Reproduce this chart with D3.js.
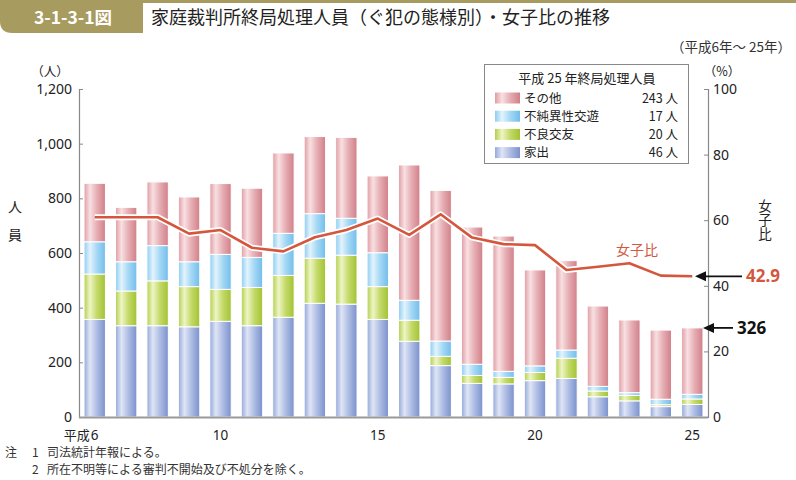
<!DOCTYPE html>
<html><head><meta charset="utf-8">
<script src="https://cdn.jsdelivr.net/npm/d3@7"></script>
<style>
body{margin:0;background:#fff;}
svg{display:block;font-family:"Noto Sans CJK JP","Noto Sans",sans-serif;}
</style></head>
<body><svg id="c" width="796" height="480"></svg>
<script>
const years = ["6","7","8","9","10","11","12","13","14","15","16","17","18","19","20","21","22","23","24","25"];
const iede     = [357,334,334,330,350,334,365,416,413,357,277,188,123,121,133,141,74,59,38,46];
const furyo    = [166,127,164,147,117,140,153,165,179,120,77,34,29,24,30,74,21,20,7,20];
const fujun    = [118,107,129,91,128,110,154,163,135,124,73,56,41,22,24,30,17,10,20,17];
const sonota   = [214,199,233,237,259,253,294,282,296,281,495,551,502,495,351,327,294,266,253,243];
const joshiHi  = [60.9,60.9,60.9,55.9,57.0,51.6,50.5,54.8,57.0,60.5,55.5,61.8,54.7,52.7,52.4,44.8,45.8,46.9,43.1,42.9];
const tickYears = ["6","10","15","20","25"];
const leftTicks = [0,200,400,600,800,1000,1200];
const rightTicks = [0,20,40,60,80,100];
const seriesNames = ["家出","不良交友","不純異性交遊","その他"];
const legendOrder = ["その他","不純異性交遊","不良交友","家出"];
const legendVals = {"その他":"243 人","不純異性交遊":"17 人","不良交友":"20 人","家出":"46 人"};

const svg = d3.select("#c");
const defs = svg.append("defs");
const grads = {
  "家出":["#94a8da","#dfe5f5","#aebde4","#7a91cc"],
  "不良交友":["#b3cf4e","#eef5c6","#c4da6a","#a2c234"],
  "不純異性交遊":["#8dcdf2","#e3f3fc","#a5d8f5","#72bdeb"],
  "その他":["#e09ca3","#f8e0e2","#e6aeb4","#d17f88"]
};
Object.entries(grads).forEach(([k,c],i)=>{
  const g = defs.append("linearGradient").attr("id","g"+i).attr("x1","0").attr("x2","1").attr("y1","0").attr("y2","0");
  [[0,c[0]],[0.28,c[1]],[0.6,c[2]],[1,c[3]]].forEach(([o,col])=>g.append("stop").attr("offset",o).attr("stop-color",col));
  grads[k].id = "g"+i;
});

// header
const khaki = "#a89b5f";
svg.append("rect").attr("x",0).attr("y",0).attr("width",796).attr("height",3).attr("fill",khaki);
svg.append("path").attr("d","M0,0 H143 V33 H12 Q0,33 0,21 Z").attr("fill",khaki);
svg.append("text").attr("x",73).attr("y",24).attr("text-anchor","middle").attr("fill","#fff")
  .attr("font-size",17.5).attr("font-weight","bold").text("3-1-3-1図");
svg.append("text").attr("x",151).attr("y",24).attr("fill","#222").attr("font-size",18).text("家庭裁判所終局処理人員（ぐ犯の態様別）・女子比の推移");
svg.append("text").attr("x",791).attr("y",52).attr("text-anchor","end").attr("fill","#333").attr("font-size",13.5).text("（平成6年～ 25年）");

const x = d3.scaleBand().domain(years).range([79,708]).paddingInner(0.32).paddingOuter(0.16);
const y = d3.scaleLinear().domain([0,1200]).range([417,89]);
const y2 = d3.scaleLinear().domain([0,100]).range([417,89]);

const table = years.map((yr,i)=>({year:yr,"家出":iede[i],"不良交友":furyo[i],"不純異性交遊":fujun[i],"その他":sonota[i]}));
const stack = d3.stack().keys(seriesNames)(table);

svg.append("g").selectAll("g").data(stack).join("g")
  .attr("fill",d=>`url(#${grads[d.key].id})`)
  .selectAll("rect").data(d=>d).join("rect")
  .attr("x",d=>x(d.data.year)).attr("width",x.bandwidth())
  .attr("y",d=>y(d[1])).attr("height",d=>y(d[0])-y(d[1]))
  .attr("stroke","#fff").attr("stroke-width",1);

// axes
const axisCol = "#888";
const gl = svg.append("g").attr("transform","translate(79,0)")
  .call(d3.axisRight(y).tickValues(leftTicks).tickSize(4).tickFormat(d3.format(",")));
gl.select(".domain").attr("stroke",axisCol).attr("stroke-width",1.2);
gl.selectAll(".tick line").attr("stroke",axisCol);
gl.selectAll(".tick text").attr("x",-7).attr("text-anchor","end").attr("font-size",14)
  .attr("fill","#222").attr("font-family","\"Noto Sans\",sans-serif");

const gr = svg.append("g").attr("transform","translate(708,0)")
  .call(d3.axisLeft(y2).tickValues(rightTicks).tickSize(4));
gr.select(".domain").attr("stroke",axisCol).attr("stroke-width",1.2);
gr.selectAll(".tick line").attr("stroke",axisCol);
gr.selectAll(".tick text").attr("x",5).attr("text-anchor","start").attr("font-size",14)
  .attr("fill","#222").attr("font-family","\"Noto Sans\",sans-serif");

svg.append("line").attr("x1",79).attr("x2",708).attr("y1",417.5).attr("y2",417.5).attr("stroke","#999").attr("stroke-width",2);

const gx = svg.append("g");
tickYears.forEach(t=>{
  const cx = x(t)+x.bandwidth()/2;
  gx.append("text").attr("x",cx).attr("y",440).attr("text-anchor","middle").attr("font-size",13.5)
    .attr("fill","#222").attr("font-family","\"Noto Sans\",sans-serif").text(t);
  if(t==="6") gx.append("text").attr("x",cx-5).attr("y",440).attr("text-anchor","end").attr("font-size",13).attr("fill","#222").text("平成");
});

// axis titles
svg.append("text").attr("x",50).attr("y",76).attr("text-anchor","middle").attr("font-size",12.5).attr("fill","#222").text("（人）");
svg.append("text").attr("x",15).attr("y",212).attr("text-anchor","middle").attr("font-size",14).attr("fill","#222").text("人");
svg.append("text").attr("x",15).attr("y",240).attr("text-anchor","middle").attr("font-size",14).attr("fill","#222").text("員");
svg.append("text").attr("x",722).attr("y",76).attr("text-anchor","middle").attr("font-size",12.5).attr("fill","#222").text("（%）");
svg.append("text").attr("x",765).attr("y",199).attr("font-size",13.5).attr("fill","#222")
  .style("writing-mode","vertical-rl").attr("letter-spacing",0.5).text("女子比");

// line
const red = "#d4573d";
const line = d3.line().x((d,i)=>x(years[i])+x.bandwidth()/2).y(d=>y2(d));
svg.append("path").datum(joshiHi).attr("d",line).attr("fill","none").attr("stroke","#fff").attr("stroke-width",6).attr("stroke-linejoin","round");
svg.append("path").datum(joshiHi).attr("d",line).attr("fill","none").attr("stroke",red).attr("stroke-width",2.6).attr("stroke-linejoin","round");
svg.append("text").attr("x",637).attr("y",255).attr("text-anchor","middle").attr("font-size",14).attr("fill",red).text("女子比");

// annotations
function arrow(x1,x2,yy){
  svg.append("line").attr("x1",x1).attr("x2",x2+8).attr("y1",yy).attr("y2",yy).attr("stroke","#111").attr("stroke-width",1.8);
  svg.append("path").attr("d",`M${x2},${yy} L${x2+11},${yy-5} L${x2+11},${yy+5} Z`).attr("fill","#111");
}
const lastY2 = y2(joshiHi[joshiHi.length-1]);
arrow(742,695,lastY2);
svg.append("text").attr("x",746).attr("y",lastY2+6).attr("font-size",17).attr("font-weight","bold").attr("fill",red)
  .attr("font-family","\"Noto Sans\",sans-serif").text(joshiHi[joshiHi.length-1].toFixed(1));
const total = iede[19]+furyo[19]+fujun[19]+sonota[19];
const lastY = y(total);
arrow(733,703,lastY);
svg.append("text").attr("x",737).attr("y",lastY+6).attr("font-size",17).attr("font-weight","bold").attr("fill","#111")
  .attr("font-family","\"Noto Sans\",sans-serif").text(total);

// legend
const lg = svg.append("g");
lg.append("rect").attr("x",484.5).attr("y",64.5).attr("width",204).attr("height",99).attr("fill","#fff").attr("stroke","#888");
lg.append("text").attr("x",587).attr("y",83).attr("text-anchor","middle").attr("font-size",13).attr("fill","#222").text("平成 25 年終局処理人員");
const rowY = i => 98+i*18.2;
legendOrder.forEach((k,i)=>{
  lg.append("rect").attr("x",495).attr("y",rowY(i)-5.5).attr("width",25).attr("height",11).attr("fill",`url(#${grads[k].id})`);
  lg.append("text").attr("x",524).attr("y",rowY(i)+4.5).attr("font-size",12.5).attr("fill","#222").text(k);
  lg.append("text").attr("x",678).attr("y",rowY(i)+4.5).attr("text-anchor","end").attr("font-size",12.5).attr("fill","#222").text(legendVals[k]);
});

// footnotes
const fs = 12;
svg.append("text").attr("x",5).attr("y",457).attr("font-size",fs).attr("fill","#333").text("注");
svg.append("text").attr("x",32).attr("y",457).attr("font-size",fs).attr("fill","#333").text("1");
svg.append("text").attr("x",47).attr("y",457).attr("font-size",fs).attr("fill","#333").text("司法統計年報による。");
svg.append("text").attr("x",32).attr("y",474).attr("font-size",fs).attr("fill","#333").text("2");
svg.append("text").attr("x",47).attr("y",474).attr("font-size",fs).attr("fill","#333").text("所在不明等による審判不開始及び不処分を除く。");
</script></body></html>
